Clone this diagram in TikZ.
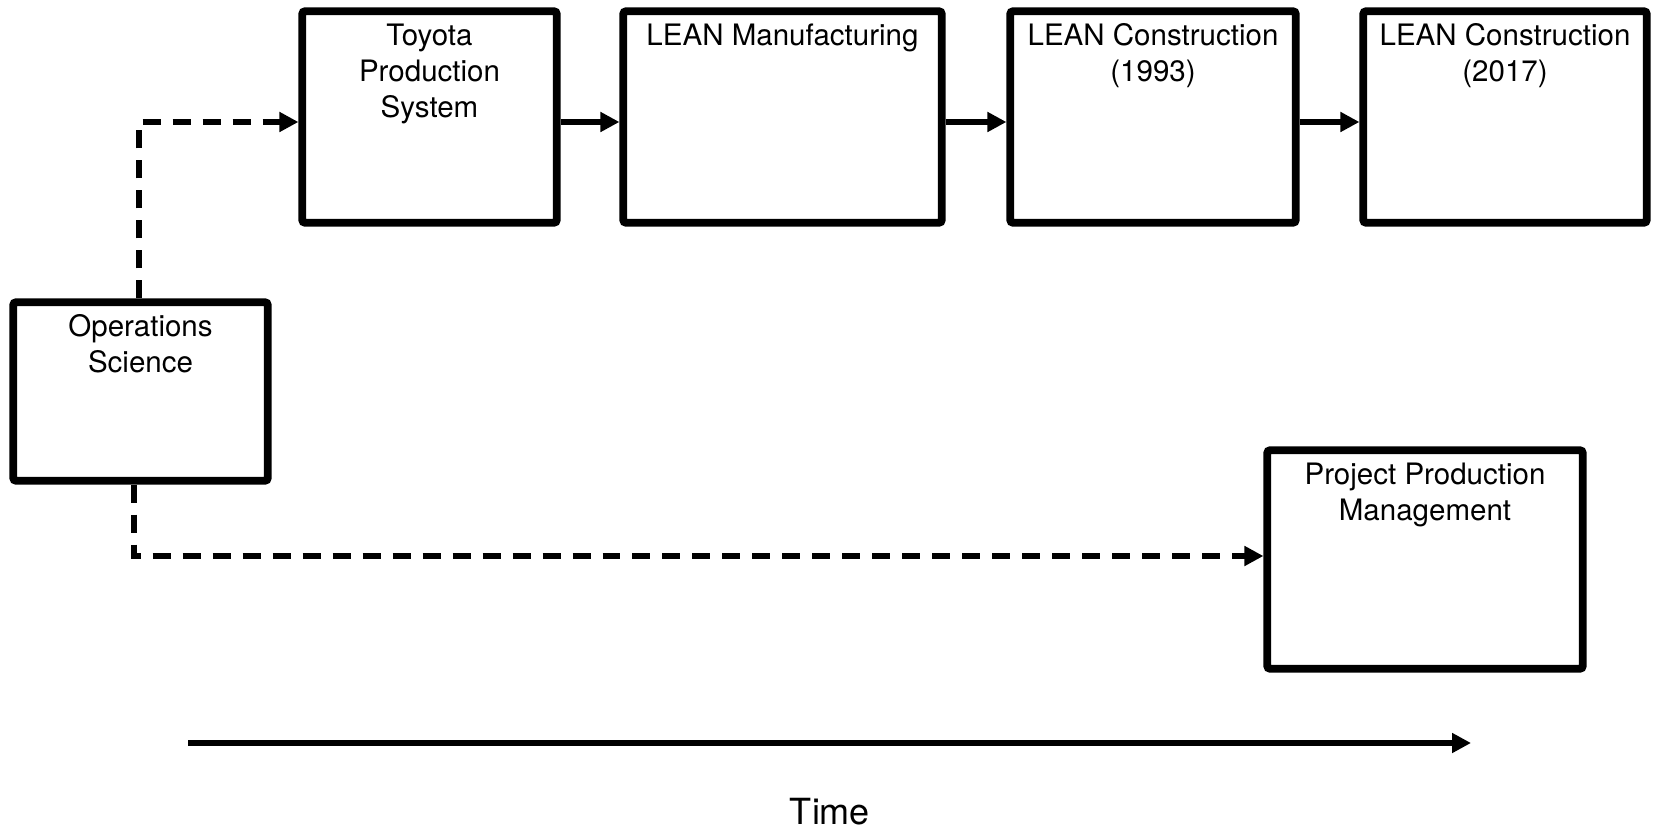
\documentclass[tikz,border=0pt]{standalone}
\usepackage{fontspec}
\setmainfont{TeX Gyre Heros}
\usetikzlibrary{arrows.meta,positioning}

\begin{document}
\begin{tikzpicture}[
  x=0.02cm,y=-0.02cm,
  stage/.style={draw=black,line width=4.4pt,rounded corners=1.5pt,fill=white,inner sep=0pt},
  stagetext/.style={inner sep=0pt,align=center,font=\fontsize{16.8}{20.5}\selectfont},
  flow/.style={-{Triangle[length=0.38cm,width=0.38cm]},line width=3pt},
  link/.style={flow,dash pattern=on 0.36cm off 0.24cm}
]
\useasboundingbox (0,0) rectangle (1653,831);
% boxes
\node[stage,minimum width=5.09cm,minimum height=4.23cm] (tps) at (429.5,117) {};
\node[stage,minimum width=6.37cm,minimum height=4.23cm] (lm) at (782.5,117) {};
\node[stage,minimum width=5.71cm,minimum height=4.23cm] (lc93) at (1153,117) {};
\node[stage,minimum width=5.67cm,minimum height=4.23cm] (lc17) at (1505,117) {};
\node[stage,minimum width=5.09cm,minimum height=3.57cm] (ops) at (140.5,391.5) {};
\node[stage,minimum width=6.31cm,minimum height=4.37cm] (ppm) at (1425,559.5) {};
% labels
\node[stagetext,below=0.32cm of tps.north] (tpsT) {Toyota\\Production\\System};
\node[stagetext,below=0.32cm of lm.north] (lmT) {LEAN Manufacturing};
\node[stagetext,below=0.32cm of lc93.north] (lc93T) {LEAN Construction\\(1993)};
\node[stagetext,below=0.32cm of lc17.north] (lc17T) {LEAN Construction\\(2017)};
\node[stagetext,below=0.32cm of ops.north] (opsT) {Operations\\Science};
\node[stagetext,below=0.32cm of ppm.north] (ppmT) {Project Production\\Management};
% connectors
\draw[flow] ([yshift=-0.1cm]tps.east) -- ([yshift=-0.1cm]lm.west);
\draw[flow] ([yshift=-0.1cm]lm.east) -- ([yshift=-0.1cm]lc93.west);
\draw[flow] ([yshift=-0.1cm]lc93.east) -- ([yshift=-0.1cm]lc17.west);
\draw[link] ([xshift=-0.03cm]ops.north) |- ([yshift=-0.1cm]tps.west);
\draw[link] ([xshift=-0.13cm]ops.south) |- ([yshift=0.07cm]ppm.west);
% time axis
\coordinate (t0) at (188,743);
\coordinate (t1) at (1471,743);
\draw[flow] (t0) -- (t1);
\node[font=\fontsize{20.5}{24}\selectfont] (time) at (830,812) {Time};
\end{tikzpicture}
\end{document}
